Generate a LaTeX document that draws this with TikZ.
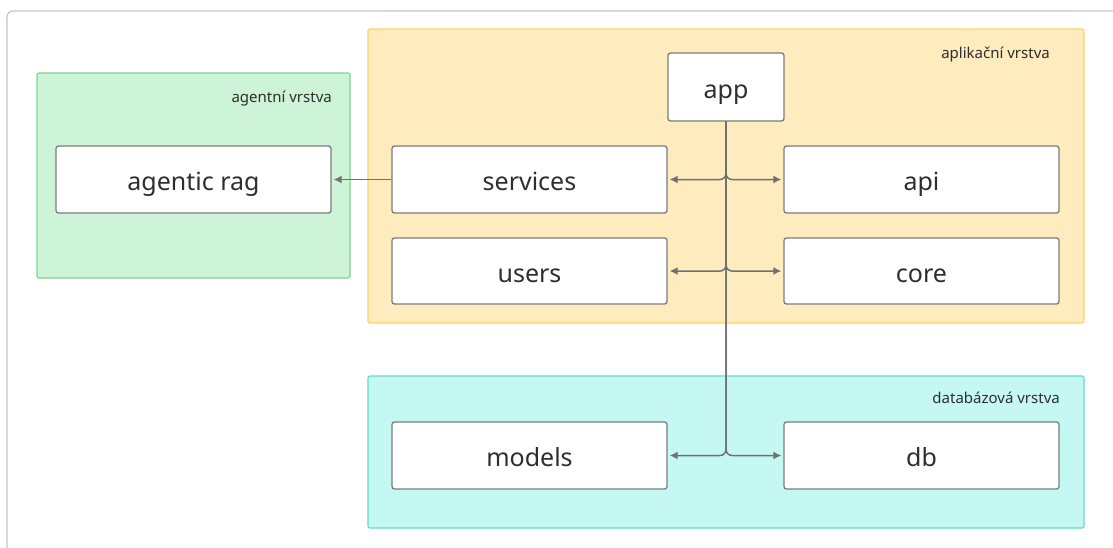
\documentclass[tikz,border=0pt]{standalone}
\usepackage{fontspec}
\setmainfont{Noto Sans}
\usetikzlibrary{arrows.meta}

\definecolor{frameline}{HTML}{C4C4C4}
\definecolor{boxline}{HTML}{7C7C7C}
\definecolor{wire}{HTML}{707070}
\definecolor{txt}{HTML}{2E2E2E}
\definecolor{agentfill}{HTML}{CDF4D6}
\definecolor{agentline}{HTML}{7DD88B}
\definecolor{appfill}{HTML}{FEEBBE}
\definecolor{appline}{HTML}{FBD466}
\definecolor{dbfill}{HTML}{C5F8F3}
\definecolor{dbline}{HTML}{5EDFCC}

\tikzset{
  layer/.style={rounded corners=2pt, line width=1.2pt},
  module/.style={draw=boxline, fill=white, line width=1.3pt, rounded corners=2.5pt,
    inner sep=0pt, text=txt, font=\fontsize{25}{25}\selectfont,
    text height=22.5pt, text depth=0pt},
  layertitle/.style={text=txt, font=\fontsize{15}{15}\selectfont, inner sep=0pt},
  link/.style={draw=wire, line width=1.5pt, -{Latex[length=8pt,width=8pt]}},
}

\begin{document}
\begin{tikzpicture}[x=1pt, y=-1pt]
  \useasboundingbox (0,0) rectangle (1113,547);
  \clip (0,0) rectangle (1113,547);
  \fill[white] (0,0) rectangle (1113,547);

  % outer canvas frame
  \draw[frameline, line width=1.2pt, rounded corners=6pt] (1130,11) -- (7,11) -- (7,570);

  % layers
  \draw[layer, fill=agentfill, draw=agentline] (37,73) rectangle (350,278);
  \draw[layer, fill=appfill, draw=appline] (368,29) rectangle (1084,323);
  \draw[layer, fill=dbfill, draw=dbline] (368,376) rectangle (1084,528);

  \node[layertitle, anchor=east] (tagent) at (332,99) {agentní vrstva};
  \node[layertitle, anchor=east] (tapp) at (1050,55) {aplikační vrstva};
  \node[layertitle, anchor=east] (tdb) at (1060,398) {databázová vrstva};

  % modules
  \node[module, minimum width=116pt, minimum height=68pt] (app) at (726,87) {app};
  \node[module, minimum width=275pt, minimum height=67pt] (rag) at (193.5,179.5) {agentic rag};
  \node[module, minimum width=275pt, minimum height=67pt] (services) at (529.5,179.5) {services};
  \node[module, minimum width=275pt, minimum height=67pt] (api) at (921.5,179.5) {api};
  \node[module, minimum width=275pt, minimum height=66pt] (users) at (529.5,271) {users};
  \node[module, minimum width=275pt, minimum height=66pt] (core) at (921.5,271) {core};
  \node[module, minimum width=275pt, minimum height=67pt] (models) at (529.5,455.5) {models};
  \node[module, minimum width=275pt, minimum height=67pt] (db) at (921.5,455.5) {db};

  % connectors: one trunk from app, branching left and right at each row
  \coordinate (trunktop) at (app.south);
  \foreach \dst in {services, users, models} {
    \draw[link, rounded corners=6pt] (trunktop) |- ([xshift=2pt]\dst.east);
  }
  \foreach \dst in {api, core, db} {
    \draw[link, rounded corners=6pt] (trunktop) |- ([xshift=-2pt]\dst.west);
  }
  \draw[link] (services.west) -- ([xshift=2pt]rag.east);
\end{tikzpicture}
\end{document}
